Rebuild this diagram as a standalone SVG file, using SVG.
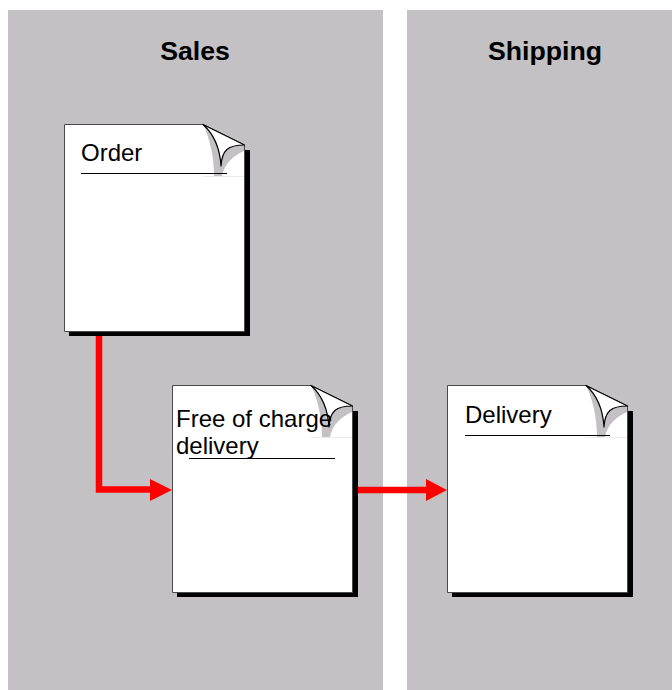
<svg xmlns="http://www.w3.org/2000/svg" width="672" height="690" viewBox="0 0 672 690">
<style>
.panel{fill:#c3c1c3}
.title{font:bold 26.7px "Liberation Sans",Arial,sans-serif;fill:#000;text-anchor:middle}
.label{font:24px "Liberation Sans",Arial,sans-serif;fill:#000}
.rule{stroke:#000;stroke-width:1;fill:none}
.flow{stroke:#f00;fill:none}
.head{fill:#f00}
</style>
<defs>
<g id="doc">
<path d="M5,26H186V212H5Z" fill="#000"/>
<path d="M0.5,0.5H139L180.5,21V207.5H0.5Z" fill="#fff" stroke="#4a4a4a" stroke-width="1"/>
<path d="M139,0C146,15 150,33 150,52H158C160,40 170,31 180,27V21Z" fill="#c3c1c3"/>
<path d="M139,0.5C152,12 156,26 157,42C158,26 164,21 180.500,21Z" fill="#fff" stroke="#000" stroke-width="1.200" stroke-linejoin="round"/>
<path d="M139,52.500H180" stroke="#ececec" stroke-width="1" fill="none"/>
</g>
</defs>
<g id="lanes">
<rect id="lane-sales" class="panel" x="8" y="10" width="375" height="680"/>
<rect id="lane-shipping" class="panel" x="407" y="10" width="265" height="680"/>
<text class="title" x="195" y="60">Sales</text>
<text class="title" x="545" y="60">Shipping</text>
</g>
<g id="node-order">
<use href="#doc" x="64" y="124"/>
<path class="rule" d="M81,173.500H227"/>
<text class="label" x="81" y="161">Order</text>
</g>
<g id="node-free-of-charge-delivery">
<use href="#doc" x="172" y="385"/>
<path class="rule" d="M189,458.500H335"/>
<text class="label" x="176" y="427">Free of charge</text>
<text class="label" x="176" y="454">delivery</text>
</g>
<g id="node-delivery">
<use href="#doc" x="447" y="385"/>
<path class="rule" d="M465,435.500H610"/>
<text class="label" x="465" y="423">Delivery</text>
</g>
<g id="connectors">
<path class="flow" stroke-width="6.500" d="M99,336V489.500H152"/>
<path class="head" d="M150,479L172,490L150,501Z"/>
<path class="flow" stroke-width="6.500" d="M358,490H428"/>
<path class="head" d="M426,479L447,490L426,501Z"/>
</g>
</svg>
